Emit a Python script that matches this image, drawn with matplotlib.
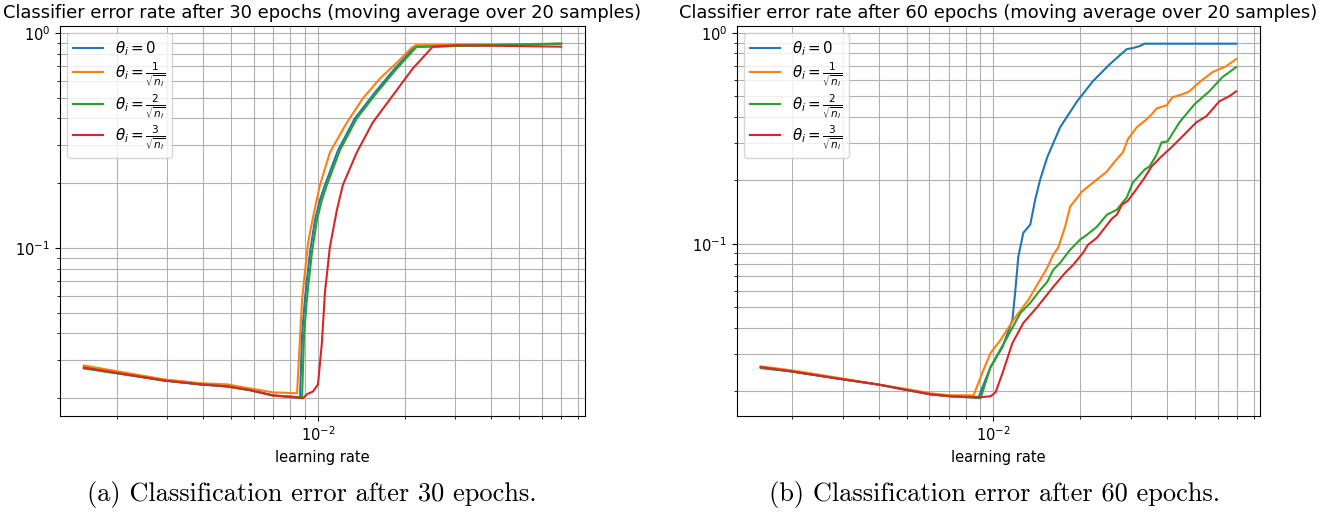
import matplotlib
matplotlib.use("Agg")
import matplotlib.pyplot as plt

# learning rate sweeps, error rate after 30 epochs (moving average over 20 samples)
lr_30_t0 = [0.001538, 0.002909, 0.003906, 0.004843, 0.005817, 0.006987, 0.008662, 0.008805,
            0.009016, 0.009382, 0.009763, 0.01016, 0.01057, 0.01173, 0.01343, 0.01575,
            0.01846, 0.02166, 0.0699]
err_30_t0 = [0.0278, 0.0242, 0.0232, 0.0227, 0.0218, 0.0206, 0.0202, 0.0396,
             0.0587, 0.0958, 0.135, 0.167, 0.196, 0.284, 0.400, 0.527,
             0.681, 0.861, 0.89]

lr_30_t1 = [0.001538, 0.002909, 0.003906, 0.004843, 0.005817, 0.006987, 0.008459, 0.008805,
            0.009235, 0.00961, 0.01016, 0.0110, 0.0126, 0.01431, 0.01639, 0.01877,
            0.02115, 0.02183, 0.0699]
err_30_t1 = [0.0284, 0.0245, 0.0235, 0.0232, 0.0222, 0.0213, 0.0211, 0.0574,
             0.1055, 0.139, 0.196, 0.278, 0.383, 0.495, 0.612, 0.726,
             0.852, 0.875, 0.89]

lr_30_t2 = [0.001538, 0.002909, 0.003906, 0.004843, 0.005817, 0.006987, 0.008805, 0.008946,
            0.009161, 0.009533, 0.00992, 0.01032, 0.01074, 0.01191, 0.01364, 0.01600,
            0.01877, 0.02200, 0.0699]
err_30_t2 = [0.0275, 0.0242, 0.0232, 0.0227, 0.0218, 0.0206, 0.0202, 0.0396,
             0.0587, 0.0958, 0.135, 0.167, 0.196, 0.284, 0.400, 0.527,
             0.681, 0.861, 0.89]

lr_30_t3 = [0.001538, 0.002909, 0.003906, 0.004843, 0.005817, 0.006987, 0.008874, 0.009161,
            0.00961, 0.01, 0.01032, 0.01057, 0.0110, 0.01163, 0.0122, 0.01364,
            0.0155, 0.01818, 0.02132, 0.025, 0.03027, 0.03637, 0.04728, 0.0699]
err_30_t3 = [0.0278, 0.0242, 0.0232, 0.0227, 0.0218, 0.0206, 0.0200, 0.0209,
             0.0215, 0.0232, 0.0363, 0.0619, 0.1011, 0.150, 0.196, 0.278,
             0.383, 0.511, 0.681, 0.86, 0.875, 0.872, 0.868, 0.862]

# same sweep after 60 epochs
lr_60_t0 = [0.00156, 0.001995, 0.002968, 0.003981, 0.00505, 0.006065, 0.007107, 0.008877,
            0.009765, 0.01074, 0.01163, 0.01191, 0.01219, 0.01269, 0.01341, 0.01395,
            0.01452, 0.01535, 0.01702, 0.01949, 0.02212, 0.02532, 0.02898, 0.0304,
            0.03213, 0.03342, 0.0694]
err_60_t0 = [0.0260, 0.0248, 0.0228, 0.0215, 0.0202, 0.0193, 0.0189, 0.0187,
             0.0260, 0.0323, 0.0435, 0.0604, 0.0867, 0.1128, 0.1232, 0.162,
             0.202, 0.257, 0.357, 0.474, 0.591, 0.712, 0.839, 0.848,
             0.867, 0.89, 0.89]

lr_60_t1 = [0.00156, 0.001995, 0.002968, 0.003981, 0.00505, 0.006065, 0.007107, 0.008531,
            0.009164, 0.009765, 0.01057, 0.01172, 0.0132, 0.0143, 0.01535, 0.0161,
            0.01675, 0.01771, 0.01843, 0.02027, 0.02284, 0.02472, 0.02634, 0.02807,
            0.02921, 0.03137, 0.03396, 0.03534, 0.03677, 0.03981, 0.04175, 0.04519,
            0.04777, 0.05173, 0.05736, 0.06411, 0.0694]
err_60_t1 = [0.0262, 0.0251, 0.0230, 0.0215, 0.0204, 0.0195, 0.0191, 0.0191,
             0.0246, 0.0303, 0.0349, 0.0435, 0.0541, 0.0652, 0.0769, 0.0886,
             0.0957, 0.1205, 0.150, 0.177, 0.202, 0.220, 0.246, 0.271,
             0.313, 0.357, 0.390, 0.411, 0.439, 0.454, 0.496, 0.512,
             0.529, 0.584, 0.652, 0.696, 0.752]

lr_60_t2 = [0.00156, 0.001995, 0.002968, 0.003981, 0.00505, 0.006065, 0.007107, 0.009019,
            0.009765, 0.01117, 0.01239, 0.01341, 0.01452, 0.01535, 0.0161, 0.01702,
            0.01843, 0.01995, 0.02109, 0.02284, 0.02472, 0.02677, 0.02898, 0.0304,
            0.03342, 0.03478, 0.03677, 0.03826, 0.04012, 0.04413, 0.04974, 0.05601,
            0.06211, 0.0694]
err_60_t2 = [0.0257, 0.0248, 0.0228, 0.0215, 0.0202, 0.0193, 0.0189, 0.0185,
             0.0260, 0.0361, 0.0469, 0.0524, 0.0604, 0.0659, 0.0752, 0.0812,
             0.0936, 0.1045, 0.1104, 0.1205, 0.1374, 0.145, 0.166, 0.195,
             0.225, 0.233, 0.265, 0.303, 0.306, 0.377, 0.459, 0.529,
             0.617, 0.689]

lr_60_t3 = [0.00156, 0.001995, 0.002968, 0.003981, 0.00505, 0.006065, 0.007107, 0.009019,
            0.009765, 0.01016, 0.01074, 0.01163, 0.01269, 0.01418, 0.0161, 0.01771,
            0.01888, 0.02043, 0.02126, 0.02284, 0.02433, 0.02572, 0.02677, 0.02785,
            0.02921, 0.03088, 0.03342, 0.03534, 0.03826, 0.04142, 0.04413, 0.0505,
            0.05469, 0.06065, 0.06565, 0.0694]
err_60_t3 = [0.0260, 0.0248, 0.0228, 0.0215, 0.0202, 0.0193, 0.0189, 0.0187,
             0.0189, 0.0197, 0.0243, 0.0338, 0.0421, 0.0501, 0.0624, 0.0728,
             0.0794, 0.0906, 0.0989, 0.1068, 0.1192, 0.1315, 0.1374, 0.153,
             0.160, 0.177, 0.206, 0.233, 0.260, 0.287, 0.313, 0.377,
             0.403, 0.474, 0.501, 0.529]

labels = [r'$\theta_i = 0$',
          r'$\theta_i = \frac{1}{\sqrt{n_i}}$',
          r'$\theta_i = \frac{2}{\sqrt{n_i}}$',
          r'$\theta_i = \frac{3}{\sqrt{n_i}}$']


def draw_panel(ax, runs, epochs):
    for (lr, err), label in zip(runs, labels):
        ax.plot(lr, err, label=label)
    ax.set_xscale('log')
    ax.set_yscale('log')
    ax.grid(True, which='both')
    ax.set_xlabel('learning rate', fontsize=10.5)
    ax.tick_params(labelsize=10.5)
    ax.set_title('Classifier error rate after %d epochs (moving average over 20 samples)' % epochs,
                 fontsize=12.9)
    ax.legend(loc='upper left', fontsize=10.8, labelspacing=0.15)


fig = plt.figure(figsize=(13.36, 5.14), dpi=100)
ax1 = fig.add_axes([0.0449, 0.1907, 0.393, 0.7588])
ax2 = fig.add_axes([0.5516, 0.1907, 0.3915, 0.7588])

draw_panel(ax1, [(lr_30_t0, err_30_t0), (lr_30_t1, err_30_t1),
                 (lr_30_t2, err_30_t2), (lr_30_t3, err_30_t3)], 30)
draw_panel(ax2, [(lr_60_t0, err_60_t0), (lr_60_t1, err_60_t1),
                 (lr_60_t2, err_60_t2), (lr_60_t3, err_60_t3)], 60)

fig.text(312 / 1336, 1 - 495 / 514, '(a) Classification error after 30 epochs.',
         family='cmr10', fontsize=19, ha='center', va='center')
fig.text(995 / 1336, 1 - 495 / 514, '(b) Classification error after 60 epochs.',
         family='cmr10', fontsize=19, ha='center', va='center')

fig.savefig('out.png', dpi=100)
